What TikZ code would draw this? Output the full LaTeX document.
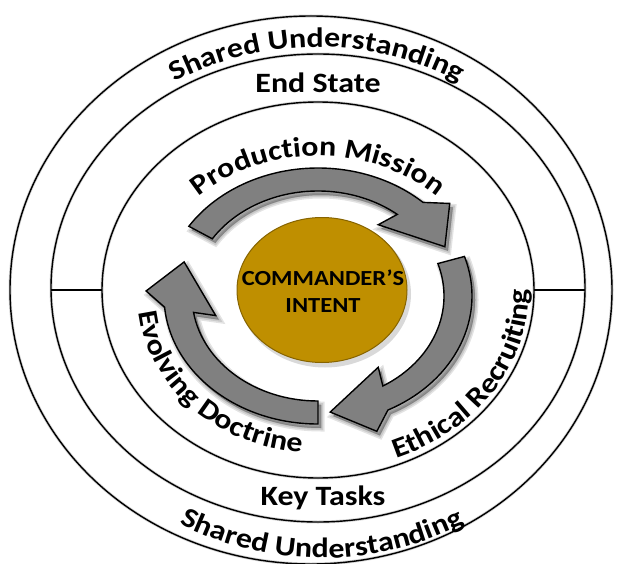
\documentclass[tikz,border=0pt]{standalone}
\usepackage{fontspec}
\setmainfont{Carlito}[FakeStretch=1.14]
\usetikzlibrary{decorations.text}

\definecolor{arrowgray}{RGB}{128,128,128}
\definecolor{intentgold}{RGB}{191,143,0}
\definecolor{intentedge}{RGB}{135,100,0}

\newcommand\ringfont{\bfseries\fontsize{28}{32}\selectfont}
\newcommand\intentfont{\bfseries\fontsize{21.5}{27}\selectfont}

% outline of one cycle arrow, travelling clockwise: #1 = tail angle, #2 = tip angle
\newcommand\cyclearrow[2]{%
  (#1:154pt and 128pt)
  arc[start angle=#1, end angle=#2+22, x radius=154pt, y radius=128pt]
  -- (#2+15:172pt and 144pt)
  -- (#2:140pt and 116.5pt)
  -- (#2+30:105pt and 87pt)
  -- (#2+26:126pt and 105pt)
  arc[start angle=#2+26, end angle=#1, x radius=126pt, y radius=105pt]
  -- cycle}

\begin{document}
\begin{tikzpicture}[x=1pt, y=1pt,
  ringline/.style={draw=black, line width=1.4pt},
  ringshade/.style={draw=black, draw opacity=0.16, line width=3pt},
  arrowbody/.style={fill=arrowgray, draw=black, line width=1.4pt, line join=miter},
  arrowshade/.style={fill=black, fill opacity=0.11, draw=black, draw opacity=0.11, line width=#1},
  curvedlabel/.style={decorate, decoration={text along path, text align=center,
      text={|\ringfont|#1}}},
  flatlabel/.style={font=\ringfont, inner sep=0pt, anchor=base}
]
\useasboundingbox (0,0) rectangle (618,-564);
\fill[white] (0,0) rectangle (618,-564);

% centres of the frames
\coordinate (cOuter) at (311,-290);
\coordinate (cMid)   at (318,-288);
\coordinate (cInner) at (318,-290);
\coordinate (cLabel) at (317,-290);
\coordinate (cLabelB) at (322,-290);
\coordinate (cCycle) at (318,-296);
\coordinate (cCore)  at (322,-290);

% soft shadows of the frames
\begin{scope}[shift={(2,-3)}]
  \draw[ringshade] (cOuter) ellipse [x radius=301pt, y radius=274pt];
  \draw[ringshade] (cMid)   ellipse [x radius=267pt, y radius=234pt];
  \draw[ringshade] (cInner) ellipse [x radius=216pt, y radius=188pt];
\end{scope}

% frames
\draw[ringline] (cOuter) ellipse [x radius=301pt, y radius=274pt];
\draw[ringline] (cMid)   ellipse [x radius=267pt, y radius=234pt];
\draw[ringline] (cInner) ellipse [x radius=216pt, y radius=188pt];

% dividers between the middle and inner frames
\coordinate (divLa) at (51,-290);
\coordinate (divLb) at (102,-290);
\coordinate (divRa) at (534,-290);
\coordinate (divRb) at (585,-290);
\draw[ringline] (divLa) -- (divLb);
\draw[ringline] (divRa) -- (divRb);

% frame labels
\path[curvedlabel={Shared Understanding}] ([shift={(150:275pt and 243pt)}]cLabel)
  arc[start angle=150, end angle=30, x radius=275pt, y radius=243pt];
\path[curvedlabel={Shared Understanding}] ([shift={(220:290pt and 268pt)}]cLabelB)
  arc[start angle=220, end angle=320, x radius=290pt, y radius=268pt];
\node[flatlabel] (endstate) at (318,-93) {End State};
\node[flatlabel] (keytasks) at (323,-505) {Key Tasks};

% cycle labels
\path[curvedlabel={Production Mission}] ([shift={(160:170pt and 140pt)}]cCycle)
  arc[start angle=160, end angle=20, x radius=170pt, y radius=140pt];
\path[curvedlabel={Evolving Doctrine}] ([shift={(164:180pt and 157pt)}]cCycle)
  arc[start angle=164, end angle=284, x radius=180pt, y radius=157pt];
\path[curvedlabel={Ethical Recruiting}] ([shift={(-91:210pt and 175pt)}]cCycle)
  arc[start angle=-91, end angle=29, x radius=210pt, y radius=175pt];

% cycle arrows
\begin{scope}[shift={(318,-296)}]
  \begin{scope}[shift={(3,-4)}]
    \foreach \w in {7pt,4pt,1pt}{
      \path[arrowshade=\w] \cyclearrow{147}{25};
      \path[arrowshade=\w] \cyclearrow{18}{-85};
      \path[arrowshade=\w] \cyclearrow{270}{163};
    }
  \end{scope}
  \draw[arrowbody] \cyclearrow{147}{25};
  \draw[arrowbody] \cyclearrow{18}{-85};
  \draw[arrowbody] \cyclearrow{270}{163};
\end{scope}

% core
\fill[black, opacity=0.15] ([shift={(3,-4)}]cCore) ellipse [x radius=86pt, y radius=73.5pt];
\filldraw[fill=intentgold, draw=intentedge, line width=1pt] (cCore) ellipse [x radius=85pt, y radius=72.5pt];
\node[font=\intentfont, align=center, text=black, inner sep=0pt] (intent) at (323,-291)
  {COMMANDER’S\\INTENT};
\end{tikzpicture}
\end{document}
